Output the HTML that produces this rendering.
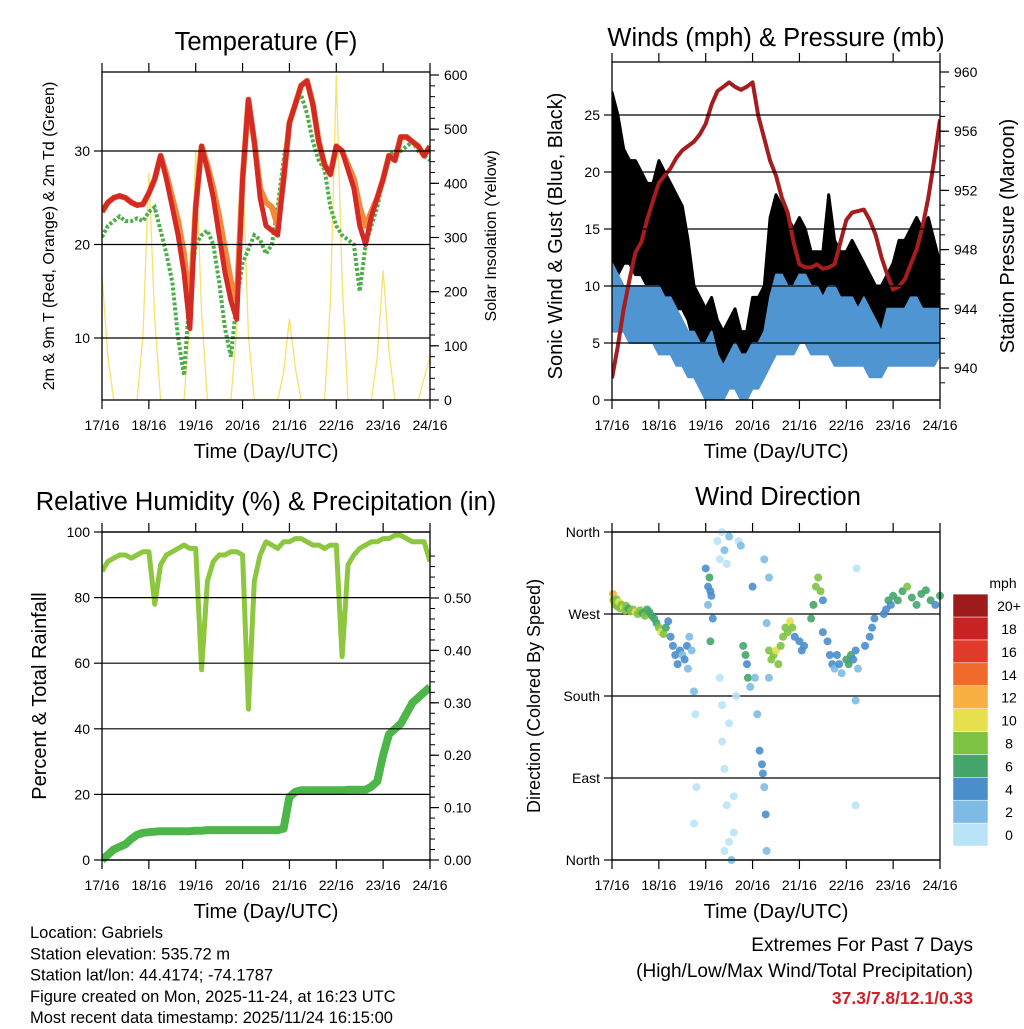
<!DOCTYPE html>
<html><head><meta charset="utf-8"><style>
body{margin:0;background:#fff;}
svg{font-family:"Liberation Sans",sans-serif;}
</style></head><body>
<svg id="s" width="1024" height="1024" viewBox="0 0 1024 1024" xmlns="http://www.w3.org/2000/svg"></svg>
<script>
const dayLabels=["17/16","18/16","19/16","20/16","21/16","22/16","23/16","24/16"];
const tempRed=[23.5,24.5,25,25.2,25,24.5,24.2,24.3, 25.5,27,29.5,27,24,21,17,11, 24,30.5,28,25,21,17,14,12, 27,35.5,31,25,22,21.5,21,27, 33,35,37,37.5,35,31,28.5,27.5, 30.5,30,28,26,22,20,23,25, 27,29.5,29,31.5,31.5,31,30.5,29.5, 30.5];
const tempOrange=[23.5,24.5,25,25.2,25,24.5,24.2,24.3, 25.5,27,29.5,27.5,25,22.5,19,13, 24,30.5,28.5,26,23,19.5,16,14, 27,35.5,31,26,24.5,24,22,27, 33,35,37,37.5,35,31,28.5,27.5, 30.5,30,28.5,27,24,22,23.5,25, 27,29.5,29,31.5,31.5,31,30.5,29.5, 30.5];
const dewGreen=[20.8,22,22.5,23,22.5,22.5,22.8,22.5, 23.5,24,21.5,19,16,10,6,15, 20,21,21.5,20,16,11,8,14, 18,19.5,21,20.5,19,20,24,29, 33,35,36,34,31,29,28,24, 22,21,20.5,20,15,20,22,24, 27,29.5,30,30,30.5,31,30,29.5, 29];
const solar=[230,80,0,0,0,0,0,120, 420,150,0,0,0,0,0,140, 460,160,0,0,0,0,0,130, 440,120,0,0,0,0,0,50, 150,60,0,0,0,0,0,180, 600,220,0,0,0,0,0,80, 240,90,0,0,0,0,0,40, 80];
const pressure=[939.3,941.5,944,946,947.8,948.5,950,951.3,952.5,953,953.5,954.2,954.7,955,955.3,955.8,956.5,957.8,958.7,959,959.3,959,958.8,959,959.3,957,955.5,954,953,951.5,950.5,948.5,947,946.8,946.8,947,946.7,946.8,947,948.5,950,950.5,950.6,950.7,950,949,947.5,946.3,945.3,945.5,946,947,948,949.5,951.5,954,956.8];
const windLo=[6,6,6,5,5,5,5,5, 4,4,4,3,3,2,2,1, 0,0,0,0,1,1,0,0, 1,1,2,3,4,4,4,4, 5,5,4,4,4,4,3,3, 3,3,3,3,2,2,2,3, 3,3,3,3,3,3,3,3, 4];
const windHi=[12,11,10,10,10,10,10,10, 10,9,9,8,7,6,6,5, 5,6,4,3,4,5,4,4, 5,5,6,9,11,11,10,10, 11,11,10,10,9,10,10,9, 9,9,8,9,8,7,6,8, 8,8,8,9,9,8,8,8, 8];
const gustLo=[10,11,12,12,11,11,10,10, 10,9,9,8,8,7,5,4, 3,2,2,2,2,2,2,2, 3,4,5,7,8,8,8,8, 9,9,8,7,7,7,6,6, 6,6,5,6,5,4,4,5, 5,5,6,6,6,7,6,6, 6];
const gustHi=[27,25,22,21,21,20,19,19, 21,20,19,18,17,14,10,9, 8,9,7,6,7,8,6,6, 9,9,10,16,18,17,16,15, 16,15,13,13,13,18,14,13, 13,14,13,12,11,10,10,11, 12,14,14,15,16,15,16,14, 12];
const rh=[88,91,92,93,93,92,93,94, 94,78,90,93,94,95,96,95, 95,58,85,91,93,93,94,94, 93,46,85,93,97,96,95,97, 97,98,98,97,96,96,95,96, 96,62,90,93,95,96,97,97, 98,98,99,99,98,97,97,97, 91];
const precip=[0,0.01,0.02,0.025,0.03,0.04,0.048,0.052, 0.053,0.054,0.055,0.055,0.055,0.055,0.055,0.055, 0.056,0.056,0.057,0.057,0.057,0.057,0.057,0.057, 0.057,0.057,0.057,0.057,0.057,0.057,0.057,0.06, 0.12,0.13,0.133,0.133,0.133,0.133,0.133,0.133, 0.133,0.133,0.134,0.134,0.134,0.134,0.14,0.15, 0.2,0.24,0.25,0.26,0.28,0.3,0.31,0.32, 0.33];
const dirDays=[0.02,0.03,0.05,0.08,0.1,0.12,0.15,0.18,0.2,0.25,0.28,0.3,0.35,0.4,0.45,0.5,0.55,0.6,0.65,0.7,0.75,0.8,0.85,0.9,0.95,1.0,1.05,1.1,1.15,1.2,1.25,1.3,1.35,1.4,1.45,1.5,1.55,1.6,1.62,1.65,1.7,1.75,1.78,1.8,1.75,2.0,2.05,2.08,2.1,2.12,2.05,2.15,2.1,2.25,2.3,2.35,2.4,2.45,2.5,2.3,2.35,2.4,2.45,2.5,2.55,2.6,2.65,2.7,2.75,2.4,2.6,2.35,2.5,2.8,2.85,2.9,2.88,2.95,3.0,3.05,3.1,3.15,3.2,3.22,3.25,3.28,3.3,3.35,3.3,3.25,3.35,3.35,3.4,3.45,3.5,3.55,3.6,3.65,3.7,3.75,3.8,3.85,3.9,4.0,4.05,4.1,4.25,4.3,4.35,4.4,4.45,4.5,4.5,4.6,4.65,4.7,4.75,4.8,4.85,4.9,5.0,5.05,5.1,5.15,5.2,5.25,5.2,5.2,5.22,5.4,5.5,5.55,5.6,5.8,5.85,5.9,5.95,6.0,6.1,6.2,6.3,6.4,6.5,6.6,6.7,6.8,6.9,7.0];
const dirDeg=[292,285,282,280,286,278,283,276,280,277,274,279,276,273,275,272,270,274,271,268,275,272,268,265,260,255,250,248,255,262,245,235,225,215,230,225,220,235,210,245,230,185,160,80,40,320,300,310,295,290,280,265,240,350,330,360,340,325,355,200,130,100,60,20,0,30,180,350,345,10,70,170,150,235,225,200,215,190,300,200,160,120,105,95,80,50,10,200,260,330,310,230,220,225,230,215,235,245,255,250,262,255,245,240,230,235,265,280,300,310,295,285,250,240,225,215,210,225,215,205,220,215,225,220,230,210,175,60,320,235,245,255,265,270,275,285,280,290,285,295,300,288,280,292,296,285,280,290];
const dirSpd=[12,9,10,9,8,9,10,8,9,10,8,9,7,9,8,10,9,8,7,8,6,7,7,6,7,8,10,9,6,5,4,4,4,4,5,3,4,4,3,2,3,2,0,0,0,4,5,6,4,5,3,5,6,0,1,0,2,1,2,0,0,1,0,0,2,1,1,1,2,1,0,1,0,6,6,6,4,2,4,3,3,4,4,4,2,4,2,2,2,2,2,8,9,8,10,9,8,8,9,8,10,8,4,4,4,5,6,7,8,9,8,4,4,4,4,5,3,4,4,3,6,6,6,5,4,3,3,1,1,4,4,4,5,4,5,6,4,6,7,7,8,6,7,6,7,6,5,6];
const speedBins=["0","2","4","6","8","10","12","14","16","18","20+"];
const binColors=["#b9e3f7","#7dbbe6","#4a8ecb","#45a56a","#7ec242","#e6e04c","#f7b041","#ef6a2b","#e03a2b","#c82223","#9e1b1c"];

const S=document.getElementById('s');
const NS="http://www.w3.org/2000/svg";
function mk(tag,at,p){const e=document.createElementNS(NS,tag);for(const k in at)e.setAttribute(k,at[k]);(p||S).appendChild(e);return e;}
function txt(x,y,s,size,anchor,extra){const e=mk('text',Object.assign({x:x,y:y,'font-size':size,'text-anchor':anchor||'middle',fill:'#000'},extra||{}));e.textContent=s;return e;}
const T=i=>i/8;
function xMap(x0,x1){return d=>x0+(x1-x0)*d/7;}
function yMap(v0,y0,v1,y1){return v=>y0+(y1-y0)*(v-v0)/(v1-v0);}
function pathFrom(arr,xf,yf){return arr.map((v,i)=>(i?'L':'M')+xf(T(i)).toFixed(1)+','+yf(v).toFixed(1)).join('');}
function band(lo,hi,xf,yf){let d=hi.map((v,i)=>(i?'L':'M')+xf(T(i)).toFixed(1)+','+yf(v).toFixed(1)).join('');for(let i=lo.length-1;i>=0;i--)d+='L'+xf(T(i)).toFixed(1)+','+yf(lo[i]).toFixed(1);return d+'Z';}

function frame(x0,y0,x1,y1,name){
  const r=mk('rect',{x:x0,y:y0,width:x1-x0,height:y1-y0,fill:'none',stroke:'#000','stroke-width':1.3});
  
  
  const xf=xMap(x0,x1);
  dayLabels.forEach((l,i)=>{const x=xf(i);
    mk('line',{x1:x,y1:y1,x2:x,y2:y1+9,stroke:'#000','stroke-width':1.2});
    mk('line',{x1:x,y1:y0,x2:x,y2:y0-9,stroke:'#000','stroke-width':1.2});
    const t=txt(x,y1+30,l,14);
    
    
  });
  const xl=txt((x0+x1)/2,y1+58,'Time (Day/UTC)',20);
  
  
}
function leftTicks(x0,x1,vals,yf,labels,grid,name){
  vals.forEach((v,i)=>{const y=yf(v);
    if(grid){const g=mk('line',{x1:x0,y1:y,x2:x1,y2:y,stroke:'#000','stroke-width':1.2});}
    mk('line',{x1:x0-8,y1:y,x2:x0,y2:y,stroke:'#000','stroke-width':1.2});
    const t=txt(x0-12,y+5,labels[i],14,'end');
    
    
  });
}
function rightTicks(x1,vals,yf,labels,minor,name){
  minor.forEach(v=>{const y=yf(v);mk('line',{x1:x1,y1:y,x2:x1+5,y2:y,stroke:'#000','stroke-width':1});});
  vals.forEach((v,i)=>{const y=yf(v);
    mk('line',{x1:x1,y1:y,x2:x1+9,y2:y,stroke:'#000','stroke-width':1.2});
    const t=txt(x1+14,y+5,labels[i],14,'start');
    
    
  });
}
function title(x,y,s,name){const t=txt(x,y,s,25.5);}
function vlabel(x,y,s,size,name){const t=txt(0,0,s,size,'middle',{transform:`translate(${x},${y}) rotate(-90)`});}

/* ---------- Panel 1: Temperature ---------- */
(function(){
  const x0=102,x1=430,y0=72,y1=400;
  const xf=xMap(x0,x1), yT=yMap(10,338,30,151), yS=yMap(0,400,600,75);
  const cp=mk('clipPath',{id:'c1'});mk('rect',{x:x0,y:y0,width:x1-x0,height:y1-y0},cp);
  const g=mk('g',{'clip-path':'url(#c1)'});
  leftTicks(x0,x1,[10,20,30],yT,['10','20','30'],true,'temp-tick-label');
  let p=mk('path',{d:pathFrom(solar,xf,yS),fill:'none',stroke:'#f6e26a','stroke-width':1.3},g);
  
  p=mk('path',{d:pathFrom(dewGreen,xf,yT),fill:'none',stroke:'#4cae48','stroke-width':4,'stroke-dasharray':'3 2'},g);
  
  p=mk('path',{d:pathFrom(tempOrange,xf,yT),fill:'none',stroke:'#f2883a','stroke-width':6,'stroke-linejoin':'round'},g);
  
  p=mk('path',{d:pathFrom(tempRed,xf,yT),fill:'none',stroke:'#d42a26','stroke-width':5,'stroke-linejoin':'round'},g);
  
  const minor=[];for(let v=0;v<=600;v+=20)minor.push(v);
  rightTicks(x1,[0,100,200,300,400,500,600],yS,['0','100','200','300','400','500','600'],minor,'solar-tick-label');
  frame(x0,y0,x1,y1,'temperature-plot-area');
  title(266,50,'Temperature (F)','temperature-title');
  vlabel(54,236,'2m & 9m T (Red, Orange) & 2m Td (Green)',16,'temperature-y-title');
  vlabel(496,236,'Solar Insolation (Yellow)',16,'solar-y-title');
})();

/* ---------- Panel 2: Winds ---------- */
(function(){
  const x0=612,x1=940,y0=62,y1=400;
  const xf=xMap(x0,x1), yW=yMap(0,400,25,115), yP=yMap(940,368,960,72);
  const cp=mk('clipPath',{id:'c2'});mk('rect',{x:x0,y:y0,width:x1-x0,height:y1-y0},cp);
  const g=mk('g',{'clip-path':'url(#c2)'});
  leftTicks(x0,x1,[0,5,10,15,20,25],yW,['0','5','10','15','20','25'],true,'wind-tick-label');
  let p=mk('path',{d:band(gustLo,gustHi,xf,yW),fill:'#000',stroke:'#000','stroke-width':3,'stroke-linejoin':'round'},g);
  
  p=mk('path',{d:band(windLo,windHi,xf,yW),fill:'#4f95d2',stroke:'#4f95d2','stroke-width':2,'stroke-linejoin':'round'},g);
  
  p=mk('path',{d:pathFrom(pressure,xf,yP),fill:'none',stroke:'#a51d1f','stroke-width':4,'stroke-linejoin':'round'},g);
  
  const minor=[];for(let v=939;v<=960;v+=1)minor.push(v);
  rightTicks(x1,[940,944,948,952,956,960],yP,['940','944','948','952','956','960'],minor,'pressure-tick-label');
  frame(x0,y0,x1,y1,'winds-plot-area');
  title(776,46,'Winds (mph) & Pressure (mb)','winds-title');
  vlabel(562,236,'Sonic Wind & Gust (Blue, Black)',20,'wind-y-title');
  vlabel(1014,236,'Station Pressure (Maroon)',20,'pressure-y-title');
})();

/* ---------- Panel 3: RH & precip ---------- */
(function(){
  const x0=102,x1=430,y0=532,y1=860;
  const xf=xMap(x0,x1), yR=yMap(0,860,100,532), yPr=yMap(0,860,0.5,598);
  const cp=mk('clipPath',{id:'c3'});mk('rect',{x:x0,y:y0-4,width:x1-x0,height:y1-y0+8},cp);
  const g=mk('g',{'clip-path':'url(#c3)'});
  leftTicks(x0,x1,[0,20,40,60,80,100],yR,['0','20','40','60','80','100'],true,'rh-tick-label');
  let p=mk('path',{d:pathFrom(rh,xf,yR),fill:'none',stroke:'#8dc63f','stroke-width':5,'stroke-linejoin':'round'},g);
  
  p=mk('path',{d:pathFrom(precip,xf,yPr),fill:'none',stroke:'#4cb648','stroke-width':8,'stroke-linejoin':'round'},g);
  
  const minor=[];for(let v=0;v<=0.6;v+=0.02)minor.push(v);
  rightTicks(x1,[0,0.1,0.2,0.3,0.4,0.5],yPr,['0.00','0.10','0.20','0.30','0.40','0.50'],minor,'precip-tick-label');
  frame(x0,y0,x1,y1,'rh-plot-area');
  title(266,510,'Relative Humidity (%) & Precipitation (in)','rh-title');
  vlabel(46,696,'Percent & Total Rainfall',20,'rh-y-title');
})();

/* ---------- Panel 4: Wind direction ---------- */
(function(){
  const x0=612,x1=940,y0=532,y1=860;
  const xf=xMap(x0,x1), yD=yMap(0,860,360,532);
  leftTicks(x0,x1,[0,90,180,270,360],yD,['North','East','South','West','North'],true,'direction-tick-label');
  const g=mk('g',{});
  
  
  dirDays.forEach((d,i)=>{
    const b=Math.min(10,Math.floor(dirSpd[i]/2));
    const c=mk('circle',{cx:xf(d),cy:yD(dirDeg[i]),r:4,fill:binColors[b],'fill-opacity':0.9},g);
    
    
  });
  frame(x0,y0,x1,y1,'direction-plot-area');
  title(778,505,'Wind Direction','direction-title');
  vlabel(540,696,'Direction (Colored By Speed)',18,'direction-y-title');
  const lg=mk('g',{});
  
  
  const bt=txt(1003,588,'mph',14,'middle',{});
  
  
  speedBins.forEach((s,i)=>{
    const y=846-(i+1)*22.9;
    const r=mk('rect',{x:953,y:y,width:35,height:22.9,fill:binColors[i],stroke:'#fff','stroke-width':0.5},lg);
    
    
    const t=txt(1009,y+17,s,14,'middle');
    
    
  });
})();

/* ---------- Footer ---------- */
["Location: Gabriels","Station elevation: 535.72 m","Station lat/lon: 44.4174; -74.1787","Figure created on Mon, 2025-11-24, at 16:23 UTC","Most recent data timestamp: 2025/11/24 16:15:00"].forEach((s,i)=>{
  const t=txt(30,938+i*21.3,s,16.5,'start');
  
  
});
let e=txt(973,951,'Extremes For Past 7 Days',19,'end');

e=txt(973,977,'(High/Low/Max Wind/Total Precipitation)',19,'end');

e=txt(973,1004,'37.3/7.8/12.1/0.33',17.5,'end',{fill:'#d0202a','font-weight':'bold'});

</script>
</body></html>
